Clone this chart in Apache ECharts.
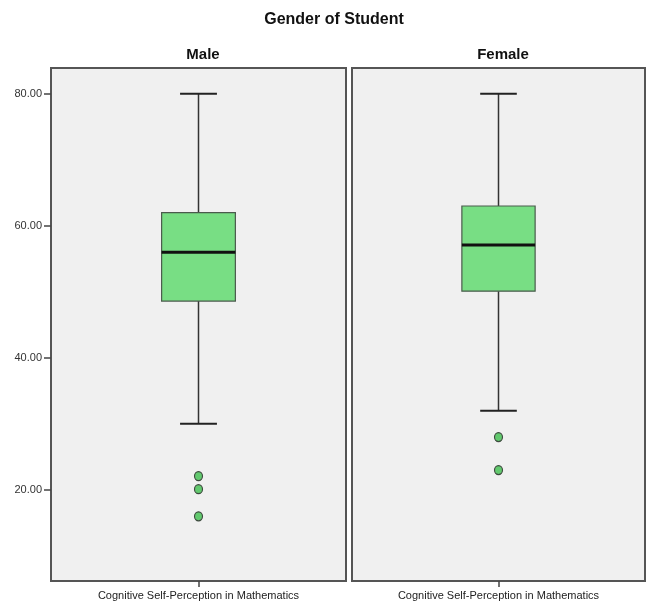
<!DOCTYPE html>
<html>
<head>
<meta charset="utf-8">
<script src="https://cdn.jsdelivr.net/npm/echarts@6/dist/echarts.min.js"></script>
<style>html,body{margin:0;padding:0;background:#fff;}#c{width:654px;height:605px;}</style>
</head>
<body>
<div id="c"></div>
<script>
const groups = ['Male', 'Female'];
const variableName = 'Cognitive Self-Perception in Mathematics';
const whiskerLow = [30, 32];
const q1 = [48.6, 50.1];
const median = [56, 57.1];
const q3 = [62, 63];
const whiskerHigh = [80, 80];
const maleOutliers = [22.1, 20.1, 16];
const femaleOutliers = [28, 23];
const outliers = [maleOutliers, femaleOutliers];
const yTicks = [20, 40, 60, 80];

const FONT = '"Liberation Sans Narrow", "Liberation Sans", Arial, sans-serif';
const chart = echarts.init(document.getElementById('c'), null, {renderer: 'canvas'});

const grids = [
  {left: 51, top: 68, width: 295, height: 513},
  {left: 352, top: 68, width: 293, height: 513}
];

function renderBox(params, api) {
  const x = api.value(0);
  const lo = api.value(1), a = api.value(2), m = api.value(3), b = api.value(4), hi = api.value(5);
  const pLo = api.coord([x, lo]), pA = api.coord([x, a]), pM = api.coord([x, m]), pB = api.coord([x, b]), pHi = api.coord([x, hi]);
  const bandW = api.size([1, 0])[0];
  const bw = bandW * 0.25;
  const cw = bw * 0.5;
  const cx = pM[0];
  const lineStyle = {stroke: '#333', lineWidth: 1.5};
  return {
    type: 'group',
    children: [
      {type: 'line', shape: {x1: cx, y1: pHi[1], x2: cx, y2: pB[1]}, style: lineStyle},
      {type: 'line', shape: {x1: cx, y1: pA[1], x2: cx, y2: pLo[1]}, style: lineStyle},
      {type: 'line', shape: {x1: cx - cw / 2, y1: pHi[1], x2: cx + cw / 2, y2: pHi[1]}, style: {stroke: '#222', lineWidth: 2}},
      {type: 'line', shape: {x1: cx - cw / 2, y1: pLo[1], x2: cx + cw / 2, y2: pLo[1]}, style: {stroke: '#222', lineWidth: 2}},
      {type: 'rect', shape: {x: cx - bw / 2, y: pB[1], width: bw, height: pA[1] - pB[1]}, style: {fill: '#78de84', stroke: '#4a5a4c', lineWidth: 1.2}},
      {type: 'line', shape: {x1: cx - bw / 2, y1: pM[1], x2: cx + bw / 2, y2: pM[1]}, style: {stroke: '#111', lineWidth: 3}}
    ]
  };
}

const series = [];
const xAxis = [], yAxis = [];
groups.forEach((g, i) => {
  xAxis.push({
    type: 'category', gridIndex: i, data: [variableName], boundaryGap: true,
    axisLine: {show: false},
    axisTick: {show: true, alignWithLabel: true, length: 6, lineStyle: {color: '#444', width: 1.5}},
    axisLabel: {show: true, color: '#222', fontFamily: FONT, fontSize: 11, margin: 9}
  });
  yAxis.push({
    type: 'value', gridIndex: i, min: 6.2, max: 83.9,
    splitLine: {show: false},
    axisLine: {show: false},
    axisTick: {show: i === 0, length: 7, customValues: yTicks, lineStyle: {color: '#444', width: 1.5}},
    axisLabel: {show: i === 0, customValues: yTicks, color: '#333', fontFamily: FONT, fontSize: 11, margin: 9,
      formatter: v => v.toFixed(2)}
  });
  series.push({
    type: 'custom', xAxisIndex: i, yAxisIndex: i,
    renderItem: renderBox,
    encode: {x: 0, y: [1, 2, 3, 4, 5]},
    data: [[0, whiskerLow[i], q1[i], median[i], q3[i], whiskerHigh[i]]],
    z: 2
  });
  series.push({
    type: 'scatter', xAxisIndex: i, yAxisIndex: i,
    symbol: 'circle', symbolSize: [8, 9],
    itemStyle: {color: '#62c96e', borderColor: '#3d4a3e', borderWidth: 1.2, opacity: 1},
    data: outliers[i].map(v => [0, v]),
    z: 3
  });
});

chart.setOption({
  animation: false,
  backgroundColor: '#ffffff',
  title: [
    {text: 'Gender of Student', left: 329, top: 7, textAlign: 'center',
      textStyle: {fontFamily: FONT, fontSize: 16, fontWeight: 'bold', color: '#111'}},
    {text: groups[0], left: 198, top: 42, textAlign: 'center',
      textStyle: {fontFamily: FONT, fontSize: 15, fontWeight: 'bold', color: '#111'}},
    {text: groups[1], left: 498, top: 42, textAlign: 'center',
      textStyle: {fontFamily: FONT, fontSize: 15, fontWeight: 'bold', color: '#111'}}
  ],
  grid: grids.map(g => Object.assign({show: true, backgroundColor: '#f0f0f0', borderColor: '#555', borderWidth: 2, containLabel: false}, g)),
  xAxis: xAxis,
  yAxis: yAxis,
  series: series
});
</script>
</body>
</html>
